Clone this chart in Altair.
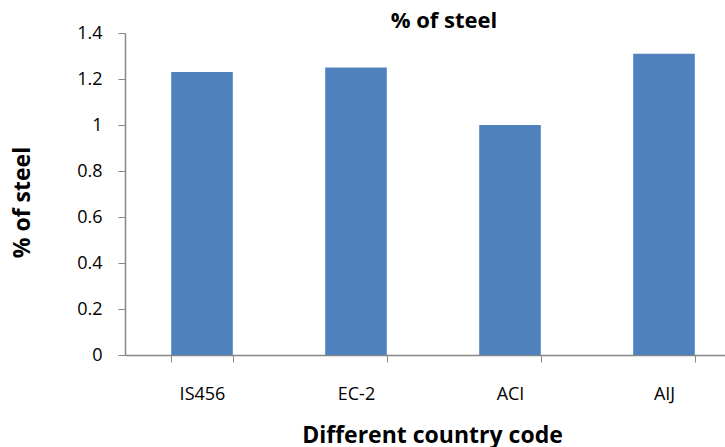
import altair as alt
import pandas as pd

codes = ["IS456", "EC-2", "ACI", "AIJ"]
steel = [1.23, 1.25, 1.0, 1.31]
y_ticks = [0, 0.2, 0.4, 0.6, 0.8, 1.0, 1.2, 1.4]

df = pd.DataFrame({"code": codes, "steel": steel})
FONT = "Open Sans"

chart = alt.Chart(df).mark_bar(color="#4F81BD").encode(
    x=alt.X("code:N", sort=codes,
            scale=alt.Scale(range=[0, 616], paddingInner=0.6, paddingOuter=0.3),
            axis=alt.Axis(title="Different country code", labelAngle=0,
                          labelFont=FONT, labelFontSize=18, labelColor="#000000",
                          labelPadding=23, tickBand="extent", tickSize=7,
                          tickColor="#868686", domainColor="#868686", domainWidth=1.5,
                          titleFont=FONT, titleFontSize=23, titleFontWeight="bold",
                          titleColor="#000000", titleX=307, titleY=87,
                          titleBaseline="alphabetic", titleAlign="center")),
    y=alt.Y("steel:Q", scale=alt.Scale(domain=[0, 1.4], nice=False),
            axis=alt.Axis(title="% of steel", values=y_ticks, grid=False,
                          labelFont=FONT, labelFontSize=18, labelColor="#000000",
                          labelPadding=16, tickSize=7, tickColor="#868686",
                          domainColor="#868686", domainWidth=1.5,
                          labelExpr="datum.value == 0 ? '0' : format(datum.value, '.1~f')",
                          titleFont=FONT, titleFontSize=23, titleFontWeight="bold",
                          titleColor="#000000", titleAngle=270, titleX=-103, titleY=169,
                          titleBaseline="middle", titleAlign="center")),
).properties(
    width=600, height=322,
    title=alt.TitleParams("% of steel", font=FONT, fontSize=22, fontWeight="bold",
                          color="#000000", anchor="middle", dx=19, offset=4, dy=13),
    autosize=alt.AutoSizeParams(type="none"),
    padding={"left": 125, "top": 33, "right": 0, "bottom": 92},
).configure_view(stroke=None)

chart.save("out.html", embed_options={"renderer": "svg", "actions": False})
